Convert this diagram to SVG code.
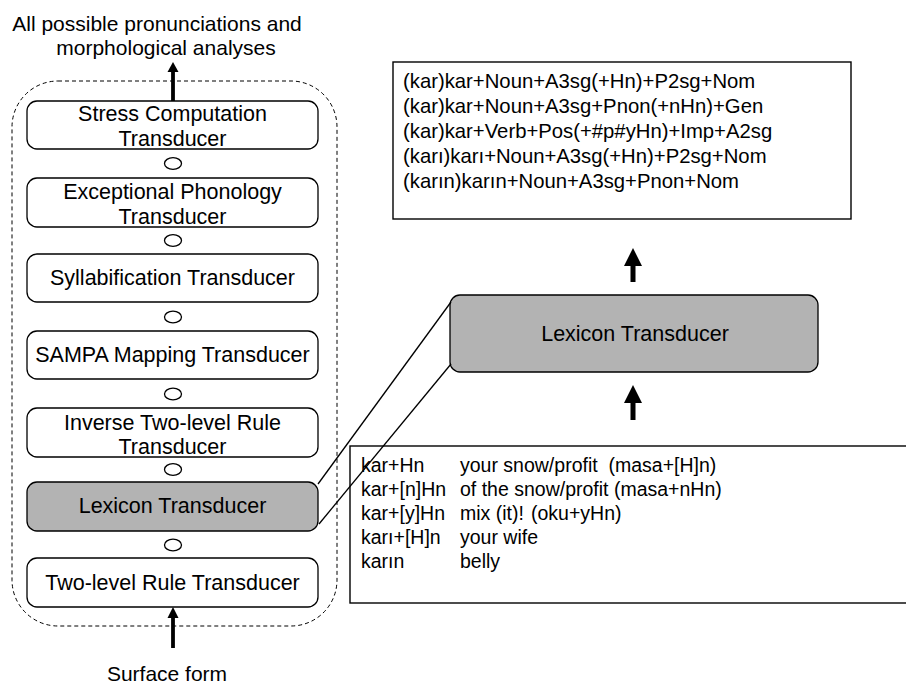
<svg xmlns="http://www.w3.org/2000/svg" width="906" height="685" viewBox="0 0 906 685">
  <style>
    text { font-family: "Liberation Sans", Arial, sans-serif; fill: #000; }
    .lbl { font-size: 21.5px; text-anchor: middle; }
    .ttl { font-size: 21px; text-anchor: middle; }
    .mono { font-size: 20.3px; white-space: pre; }
    .lex { font-size: 19.5px; white-space: pre; }
    .box { fill: #fff; stroke: #000; stroke-width: 1.3; }
    .gray { fill: #b3b3b3; stroke: #000; stroke-width: 1.3; }
    .op { fill: #fff; stroke: #000; stroke-width: 1.3; }
    .frame { fill: none; stroke: #000; stroke-width: 1; stroke-dasharray: 4 3; }
    .panel { fill: #fff; stroke: #000; stroke-width: 1.4; }
    .link { stroke: #000; stroke-width: 1.3; fill: none; }
  </style>

  <!-- dashed cascade boundary -->
  <rect class="frame" x="12" y="81" width="325" height="545" rx="46" ry="46"/>

  <!-- cascade title and input label -->
  <text x="157" y="31" class="ttl">All possible pronunciations and</text>
  <text x="166" y="55" class="ttl">morphological analyses</text>
  <text x="167" y="681" class="ttl">Surface form</text>

  <!-- transducer cascade -->
  <g id="stress">
    <rect class="box" x="27" y="101" width="291" height="48" rx="10"/>
    <text x="172.5" y="121" class="lbl">Stress Computation</text>
    <text x="172.5" y="146" class="lbl">Transducer</text>
  </g>
  <g id="exceptional">
    <rect class="box" x="27" y="178" width="291" height="49" rx="10"/>
    <text x="172.5" y="199" class="lbl">Exceptional Phonology</text>
    <text x="172.5" y="224" class="lbl">Transducer</text>
  </g>
  <g id="syllabification">
    <rect class="box" x="27" y="254" width="291" height="48" rx="10"/>
    <text x="172.5" y="285" class="lbl">Syllabification Transducer</text>
  </g>
  <g id="sampa">
    <rect class="box" x="27" y="331" width="291" height="48" rx="10"/>
    <text x="172.5" y="362" class="lbl">SAMPA Mapping Transducer</text>
  </g>
  <g id="inverse">
    <rect class="box" x="27" y="408" width="291" height="49" rx="10"/>
    <text x="172.5" y="430" class="lbl">Inverse Two-level Rule</text>
    <text x="172.5" y="454" class="lbl">Transducer</text>
  </g>
  <g id="lexicon-small">
    <rect class="gray" x="27" y="482" width="291" height="49" rx="10"/>
    <text x="172.5" y="513" class="lbl">Lexicon Transducer</text>
  </g>
  <g id="two-level">
    <rect class="box" x="27" y="558" width="291" height="49" rx="10"/>
    <text x="172.5" y="590" class="lbl">Two-level Rule Transducer</text>
  </g>

  <!-- composition operators -->
  <g id="compose">
    <ellipse class="op" cx="173" cy="163.5" rx="8.5" ry="5.8"/>
    <ellipse class="op" cx="173" cy="240.5" rx="8.5" ry="5.8"/>
    <ellipse class="op" cx="173" cy="317" rx="8.5" ry="5.8"/>
    <ellipse class="op" cx="173" cy="394" rx="8.5" ry="5.8"/>
    <ellipse class="op" cx="173" cy="469.5" rx="8.5" ry="5.8"/>
    <ellipse class="op" cx="173" cy="545" rx="8.5" ry="5.8"/>
  </g>

  <!-- lexicon detail -->
  <g id="analyses">
    <rect class="panel" x="393" y="62" width="458" height="157"/>
    <text class="mono" x="403" y="88">(kar)kar+Noun+A3sg(+Hn)+P2sg+Nom</text>
    <text class="mono" x="403" y="113">(kar)kar+Noun+A3sg+Pnon(+nHn)+Gen</text>
    <text class="mono" x="403" y="138">(kar)kar+Verb+Pos(+#p#yHn)+Imp+A2sg</text>
    <text class="mono" x="403" y="163">(karı)karı+Noun+A3sg(+Hn)+P2sg+Nom</text>
    <text class="mono" x="403" y="188">(karın)karın+Noun+A3sg+Pnon+Nom</text>
  </g>

  <g id="lexicon-large">
    <rect class="gray" x="450" y="295" width="368" height="77" rx="10"/>
    <text x="635" y="341" class="lbl">Lexicon Transducer</text>
  </g>

  <g id="forms">
    <rect class="panel" x="350" y="446" width="570" height="157"/>
    <text class="lex" x="361" y="472">kar+Hn</text>
    <text class="lex" x="460" y="472">your snow/profit  (masa+[H]n)</text>
    <text class="lex" x="361" y="496">kar+[n]Hn</text>
    <text class="lex" x="460" y="496">of the snow/profit (masa+nHn)</text>
    <text class="lex" x="361" y="520">kar+[y]Hn</text>
    <text class="lex" x="460" y="520">mix (it)!  <tspan x="531">(oku+yHn)</tspan></text>
    <text class="lex" x="361" y="544">karı+[H]n</text>
    <text class="lex" x="460" y="544">your wife</text>
    <text class="lex" x="361" y="568">karın</text>
    <text class="lex" x="460" y="568">belly</text>
  </g>

  <!-- connectors -->
  <g id="connectors">
    <line class="link" x1="318" y1="484" x2="451" y2="302"/>
    <line class="link" x1="319" y1="524" x2="451" y2="364"/>
    <!-- cascade output and input arrows -->
    <rect x="171.1" y="71" width="3.8" height="30" fill="#000"/>
    <polygon points="173,62 178.5,72 167.5,72" fill="#000"/>
    <rect x="171.1" y="617" width="3.8" height="31" fill="#000"/>
    <polygon points="173,607 178.5,618 167.5,618" fill="#000"/>
    <!-- lexicon arrows -->
    <rect x="630.5" y="265" width="5" height="17" fill="#000"/>
    <polygon points="633,248 642,266 624,266" fill="#000"/>
    <rect x="630.5" y="402" width="5" height="18" fill="#000"/>
    <polygon points="633,385 642,403 624,403" fill="#000"/>
  </g>
</svg>
